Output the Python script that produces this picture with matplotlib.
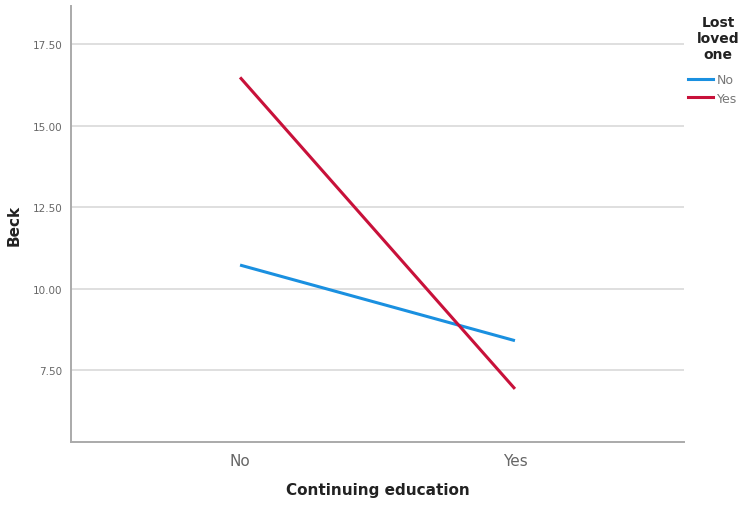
import matplotlib
matplotlib.use("Agg")
import matplotlib.pyplot as plt
from matplotlib.lines import Line2D

categories = ["No", "Yes"]
series_names = ["No", "Yes"]
beck_no = [10.72, 8.40]
beck_yes = [16.48, 6.92]
yticks = [7.5, 10.0, 12.5, 15.0, 17.5]
ytick_labels = ["7.50", "10.00", "12.50", "15.00", "17.50"]
colors = ["#1a90e0", "#c8113a"]

fig = plt.figure(figsize=(7.49, 5.06), dpi=100)
ax = fig.add_axes([71/749, 1-443/506, (684-71)/749, (443-7)/506])

x = list(range(len(categories)))
ax.plot(x, beck_no, color=colors[0], lw=2.2, solid_capstyle="butt", zorder=3)
ax.plot(x, beck_yes, color=colors[1], lw=2.2, solid_capstyle="butt", zorder=3)

ax.set_xlim(-0.615, 1.615)
ax.set_ylim(5.29, 18.67)
ax.set_yticks(yticks)
ax.set_yticklabels(ytick_labels, fontsize=7.5, color="#666666")
ax.set_xticks(x)
ax.set_xticklabels(categories, fontsize=11, color="#666666")
ax.tick_params(axis="both", length=0)
ax.tick_params(axis="y", pad=6)
ax.tick_params(axis="x", pad=8)
ax.grid(axis="y", color="#dcdcdc", lw=1.3)
ax.set_axisbelow(True)
for s in ["top", "right"]:
    ax.spines[s].set_visible(False)
for s in ["left", "bottom"]:
    ax.spines[s].set_color("#aaaaaa")
    ax.spines[s].set_linewidth(1.4)

ax.set_ylabel("Beck", fontsize=11, fontweight="bold", color="#222222", labelpad=8)
ax.set_xlabel("Continuing education", fontsize=11, fontweight="bold", color="#222222", labelpad=10)

fig.text(718/749, 1-39/506, "Lost\nloved\none", ha="center", va="center",
         fontsize=10, fontweight="bold", color="#222222", linespacing=1.15)

handles = [Line2D([0], [0], color=c, lw=2.2) for c in colors]
leg = fig.legend(handles, series_names, loc="upper left", bbox_to_anchor=(688/749, 1-74/506),
                 frameon=False, fontsize=9,
                 handlelength=2.0, handletextpad=0.3, labelspacing=0.45, borderpad=0.0,
                 borderaxespad=0.0)
for t in leg.get_texts():
    t.set_color("#777777")

fig.savefig("out.png", dpi=100)
